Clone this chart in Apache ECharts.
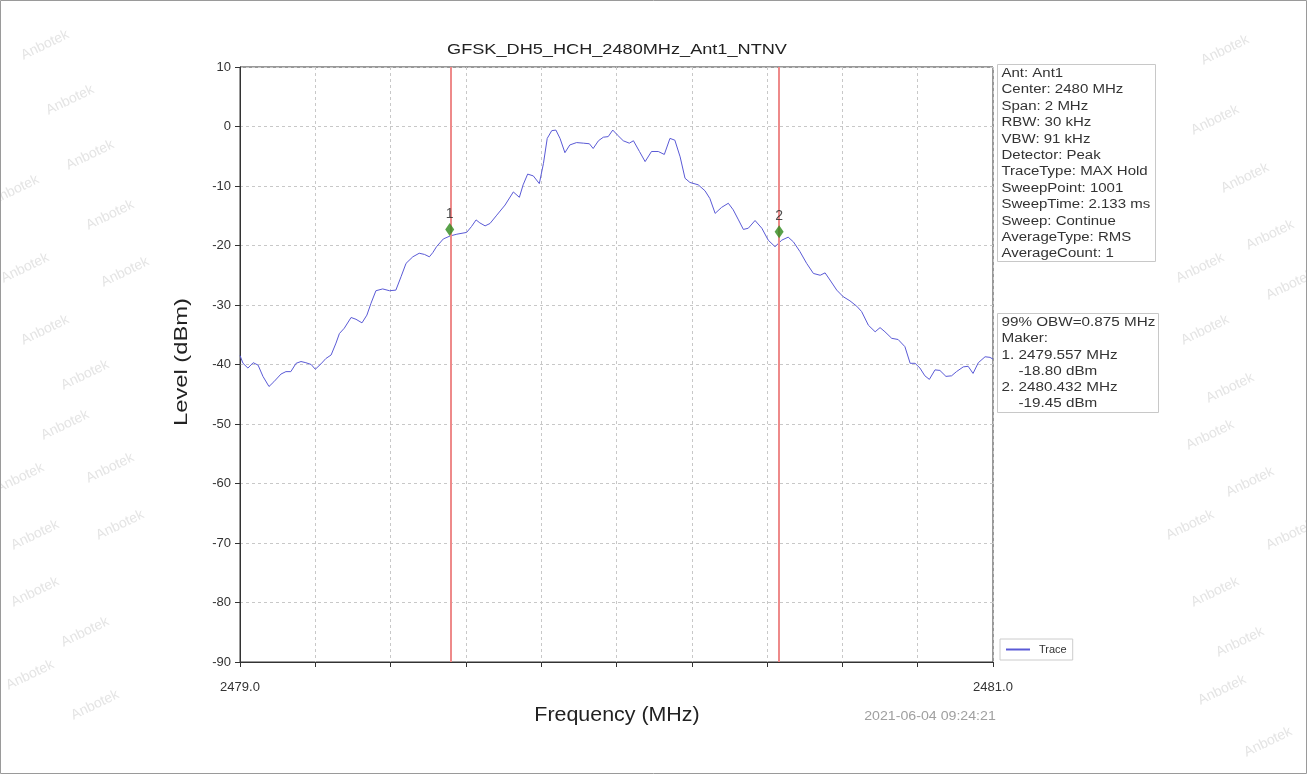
<!DOCTYPE html>
<html>
<head>
<meta charset="utf-8">
<script src="https://cdn.jsdelivr.net/npm/echarts@6/dist/echarts.min.js"></script>
<style>
html,body{margin:0;padding:0;background:#fff;}
#c{width:1307px;height:774px;}
</style>
</head>
<body>
<div id="c"></div>
<script>
// ---- data ----
const chartTitle = 'GFSK_DH5_HCH_2480MHz_Ant1_NTNV';
const xAxisName = 'Frequency (MHz)';
const yAxisName = 'Level (dBm)';
const traceFreq = [
2479.000,2479.008,2479.021,2479.035,2479.048,2479.061,2479.077,2479.090,2479.109,2479.122,
2479.135,2479.149,2479.162,2479.175,2479.189,2479.200,2479.215,2479.228,2479.242,2479.255,
2479.264,2479.277,2479.295,2479.308,2479.324,2479.337,2479.348,2479.361,2479.379,2479.397,
2479.414,2479.428,2479.441,2479.459,2479.476,2479.490,2479.503,2479.512,2479.522,2479.540,
2479.558,2479.576,2479.602,2479.615,2479.627,2479.637,2479.651,2479.664,2479.682,2479.704,
2479.726,2479.742,2479.752,2479.764,2479.779,2479.795,2479.806,2479.816,2479.828,2479.839,
2479.850,2479.863,2479.876,2479.894,2479.912,2479.928,2479.938,2479.952,2479.965,2479.978,
2479.990,2480.002,2480.018,2480.034,2480.045,2480.061,2480.076,2480.093,2480.111,2480.127,
2480.142,2480.155,2480.169,2480.182,2480.195,2480.217,2480.235,2480.248,2480.262,2480.279,
2480.297,2480.310,2480.324,2480.337,2480.350,2480.368,2480.386,2480.403,2480.421,2480.439,
2480.456,2480.470,2480.487,2480.505,2480.523,2480.541,2480.554,2480.567,2480.585,2480.602,
2480.620,2480.638,2480.651,2480.669,2480.687,2480.700,2480.713,2480.731,2480.748,2480.766,
2480.780,2480.793,2480.806,2480.819,2480.831,2480.846,2480.859,2480.875,2480.890,2480.903,
2480.921,2480.934,2480.947,2480.961,2480.979,2480.992,2481.000
];
const traceLevel = [
-38.5,-39.8,-40.6,-39.7,-40.1,-42.0,-43.7,-42.9,-41.6,-41.2,
-41.2,-39.8,-39.5,-39.7,-40.0,-40.8,-39.9,-39.0,-38.4,-36.4,
-34.8,-33.9,-32.1,-32.4,-33.0,-31.7,-29.7,-27.6,-27.3,-27.6,
-27.5,-25.2,-23.0,-21.9,-21.3,-21.5,-21.9,-21.2,-20.2,-18.9,
-18.4,-18.1,-17.8,-16.8,-15.7,-16.2,-16.7,-16.3,-14.9,-13.2,
-11.0,-11.9,-9.8,-8.0,-8.3,-9.6,-6.2,-2.0,-0.7,-0.6,
-2.0,-4.4,-3.1,-2.7,-2.8,-2.9,-3.7,-2.4,-1.8,-1.7,
-0.6,-1.4,-2.4,-2.8,-2.4,-4.2,-5.9,-4.2,-4.2,-4.7,
-2.0,-2.3,-5.1,-8.7,-9.4,-9.8,-10.8,-12.1,-14.6,-13.6,
-12.9,-14.0,-15.7,-17.3,-17.1,-15.8,-17.1,-19.1,-20.2,-19.1,
-18.6,-19.4,-21.0,-23.0,-24.7,-25.0,-24.6,-25.8,-27.5,-28.6,
-29.3,-30.2,-31.1,-33.4,-34.5,-33.8,-34.5,-35.6,-35.8,-37.0,
-39.8,-39.8,-40.6,-41.9,-42.5,-40.9,-41.0,-42.0,-41.9,-41.2,
-40.4,-40.3,-41.5,-39.7,-38.7,-38.8,-39.1
];
const markerNames = ['1', '2'];
const markerFreq = [2479.557, 2480.432];
const markerLevel = [-17.3, -17.7];
const xMin = 2479.0, xMax = 2481.0, xStep = 0.2;
const yMin = -90, yMax = 10, yStep = 10;
const infoLines = ['Ant: Ant1','Center: 2480 MHz','Span: 2 MHz','RBW: 30 kHz','VBW: 91 kHz','Detector: Peak','TraceType: MAX Hold','SweepPoint: 1001','SweepTime: 2.133 ms','Sweep: Continue','AverageType: RMS','AverageCount: 1'];
const obwLines = ['99% OBW=0.875 MHz','Maker:','1. 2479.557 MHz','    -18.80 dBm','2. 2480.432 MHz','    -19.45 dBm'];
const timestamp = '2021-06-04 09:24:21';
const watermarkText = 'Anbotek';
const watermarkSpots = [[45,45],[70,100],[90,155],[110,215],[15,190],[25,268],[125,272],[45,330],[85,375],[65,425],[110,468],[20,478],[35,535],[120,525],[35,592],[85,632],[95,705],[30,675],
[1225,50],[1215,120],[1245,178],[1270,235],[1200,268],[1290,285],[1205,330],[1230,388],[1210,435],[1250,482],[1290,535],[1190,525],[1215,592],[1240,642],[1222,690],[1268,742]];

// ---- chart ----
const FONT = '"Liberation Sans", Arial, sans-serif';
const chart = echarts.init(document.getElementById('c'), null, {renderer:'canvas'});
const traceData = traceFreq.map((f,i)=>[f, traceLevel[i]]);
const markerData = markerFreq.map((f,i)=>({value:[f, markerLevel[i]], name:markerNames[i]}));

function boxGroup(x, y, w, h, lines, lh, sx) {
  const children = [{type:'rect', shape:{x:0,y:0,width:w,height:h}, style:{fill:'#fff', stroke:'#c8c8c8', lineWidth:1}}];
  lines.forEach((t,i)=>{
    children.push({type:'text', x:4, y:2.5 + i*lh, scaleX:sx, style:{text:t, font:'12.5px '+FONT, fill:'#333', textVerticalAlign:'top'}});
  });
  return {type:'group', x:x, y:y, children:children, z:10};
}

const graphics = [];
watermarkSpots.forEach(p=>{
  graphics.push({type:'text', x:p[0], y:p[1], rotation:0.45, style:{text:watermarkText, font:'14px '+FONT, fill:'#e4e4e4', textAlign:'center', textVerticalAlign:'middle'}, z:0, silent:true});
});
graphics.push(boxGroup(997.5, 64.5, 158, 197, infoLines, 16.4, 1.2));
graphics.push(boxGroup(997.5, 313.5, 161, 99, obwLines, 16.3, 1.22));
graphics.push({type:'text', x:617, y:50, scaleX:1.21, style:{text:chartTitle, font:'15px '+FONT, fill:'#222', textAlign:'center', textVerticalAlign:'middle'}});
graphics.push({type:'text', x:617, y:715, scaleX:1.07, style:{text:xAxisName, font:'20px '+FONT, fill:'#222', textAlign:'center', textVerticalAlign:'middle'}});
graphics.push({type:'text', x:182, y:362, rotation:Math.PI/2, scaleX:1.25, style:{text:yAxisName, font:'19px '+FONT, fill:'#222', textAlign:'center', textVerticalAlign:'middle'}});
graphics.push({type:'text', x:930, y:716, scaleX:1.05, style:{text:timestamp, font:'13.5px '+FONT, fill:'#a0a0a0', textAlign:'center', textVerticalAlign:'middle'}});
graphics.push({type:'rect', shape:{x:0.5,y:0.5,width:1306,height:773}, style:{fill:'none', stroke:'#9a9a9a', lineWidth:1}, silent:true});

chart.setOption({
  animation:false,
  backgroundColor:'#fff',
  grid:{left:240, right:314, top:67, bottom:112, show:true, borderColor:'#333', borderWidth:1, backgroundColor:'transparent'},
  legend:{data:['Trace'], left:1000, top:639, orient:'vertical', backgroundColor:'#fff', borderColor:'#ccc', borderWidth:1, padding:[5,6,5,6], itemWidth:24, itemHeight:2, icon:'rect', itemGap:6,
    textStyle:{fontFamily:FONT, fontSize:11, color:'#333', padding:[0,0,0,4]}},
  xAxis:{type:'value', min:xMin, max:xMax, interval:xStep,
    axisLine:{show:true, onZero:false, lineStyle:{color:'#333', width:1}},
    axisTick:{show:true, length:5, lineStyle:{color:'#333'}},
    axisLabel:{fontFamily:FONT, fontSize:13, color:'#333', margin:19, showMinLabel:true, showMaxLabel:true,
      formatter:v=> (Math.abs(v-xMin)<1e-6 || Math.abs(v-xMax)<1e-6) ? v.toFixed(1) : ''},
    splitLine:{show:true, lineStyle:{color:'#c8c8c8', type:[3,3], width:1}}},
  yAxis:{type:'value', min:yMin, max:yMax, interval:yStep,
    axisLine:{show:true, onZero:false, lineStyle:{color:'#333', width:1}},
    axisTick:{show:true, length:5, lineStyle:{color:'#333'}},
    axisLabel:{fontFamily:FONT, fontSize:13, color:'#333', margin:9},
    splitLine:{show:true, lineStyle:{color:'#c8c8c8', type:[3,3], width:1}}},
  series:[
    {name:'Trace', type:'line', data:traceData, showSymbol:false, symbol:'none', smooth:false,
      lineStyle:{color:'#5a5ad6', width:1}, itemStyle:{color:'#5a5ad6'}, z:3,
      markLine:{silent:true, symbol:'none', label:{show:false}, lineStyle:{color:'#ee8a8a', width:2, type:'solid'},
        data:markerFreq.map(f=>({xAxis:f}))}},
    {name:'Markers', type:'scatter', data:markerData, symbol:'diamond', symbolSize:[9,13],
      itemStyle:{color:'#2e8a1c'}, z:5,
      label:{show:true, position:'top', distance:2, formatter:p=>p.name, fontFamily:FONT, fontSize:14, color:'#222'}}
  ],
  graphic:graphics
});
</script>
</body>
</html>
